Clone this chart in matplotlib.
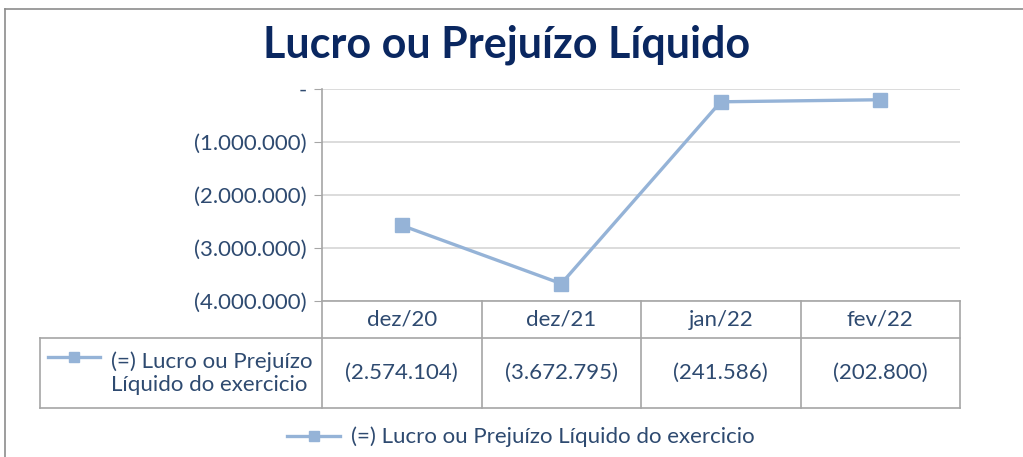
import matplotlib
matplotlib.use("Agg")
import matplotlib.pyplot as plt
from matplotlib.lines import Line2D
from matplotlib.ticker import FuncFormatter

periods = ["dez/20", "dez/21", "jan/22", "fev/22"]
resultado = [-2574104, -3672795, -241586, -202800]
y_ticks = [0, -1000000, -2000000, -3000000, -4000000]
serie = "(=) Lucro ou Prejuízo Líquido do exercicio"

LINE = "#95B3D7"
TXT = "#2E4A70"
NAVY = "#0A2760"
GRID = "#D9D9D9"
EDGE = "#A6A6A6"
FS = 16

plt.rcParams["font.family"] = ["Lato", "DejaVu Sans"]

W, H = 1023, 457
fig = plt.figure(figsize=(W / 100, H / 100), dpi=100)


def fx(px):
    return px / W


def fy(py):
    return 1 - py / H


def br(v):
    s = "{:,.0f}".format(abs(v)).replace(",", ".")
    if v == 0:
        return "-"
    return "(%s)" % s if v < 0 else s


# plot area
x0, x1, y0, y1 = 322, 960, 89, 301
ax = fig.add_axes([fx(x0), fy(y1), fx(x1) - fx(x0), fy(y0) - fy(y1)])
xs = [i + 0.5 for i in range(len(periods))]
ax.plot(xs, resultado, color=LINE, lw=2.4, marker="s", ms=10, zorder=3)
ax.set_xlim(0, len(periods))
ax.set_ylim(min(y_ticks), max(y_ticks))
ax.set_yticks(y_ticks)
ax.yaxis.set_major_formatter(FuncFormatter(lambda v, p: br(v)))
ax.set_xticks([])
ax.grid(axis="y", color=GRID, lw=1.3)
for s in ["top", "right", "bottom"]:
    ax.spines[s].set_visible(False)
ax.spines["left"].set_color(EDGE)
ax.spines["left"].set_linewidth(1.2)
ax.tick_params(axis="y", length=6, color=EDGE, labelsize=FS,
               labelcolor=TXT, pad=5)

# overlay in pixel coordinates for frame and data table
ov = fig.add_axes([0, 0, 1, 1], zorder=-1)
ov.set_xlim(0, W)
ov.set_ylim(H, 0)
ov.axis("off")
ov2 = fig.add_axes([0, 0, 1, 1], zorder=5)
ov2.set_xlim(0, W)
ov2.set_ylim(H, 0)
ov2.axis("off")
ov2.patch.set_alpha(0)

# outer chart frame
ov.plot([5, W], [9, 9], color="#8C8C8C", lw=1.2)
ov.plot([5, 5], [9, H], color="#8C8C8C", lw=1.2)

fig.text(fx(507), fy(45), "Lucro ou Prejuízo Líquido", ha="center",
         va="center", fontsize=31, fontweight="bold", color=NAVY)

# table
cols = [x0 + (x1 - x0) * i / len(periods) for i in range(len(periods) + 1)]
r0, r1, r2 = 301, 338, 408
lt = 40
ov2.plot([x0, x1], [r0, r0], color=EDGE, lw=1.2)
ov2.plot([lt, x1], [r1, r1], color=EDGE, lw=1.2)
ov2.plot([lt, x1], [r2, r2], color=EDGE, lw=1.2)
ov2.plot([lt, lt], [r1, r2], color=EDGE, lw=1.2)
for c in cols:
    ov2.plot([c, c], [r0, r2], color=EDGE, lw=1.2)
for i, p in enumerate(periods):
    cx = (cols[i] + cols[i + 1]) / 2
    ov2.text(cx, (r0 + r1) / 2, p, ha="center", va="center",
             fontsize=FS, color=TXT)
    ov2.text(cx, (r1 + r2) / 2, br(resultado[i]), ha="center", va="center",
             fontsize=FS, color=TXT)
ov2.add_line(Line2D([48, 100], [357, 357], color=LINE, lw=2.4))
ov2.plot([74], [357], marker="s", ms=7, color=LINE)
ov2.text(111, 373, "(=) Lucro ou Prejuízo\nLíquido do exercicio", ha="left",
         va="center", fontsize=FS, color=TXT, linespacing=1.2)

# legend
h = Line2D([], [], color=LINE, lw=2.4, marker="s", ms=7)
fig.legend([h], [serie], loc="center", bbox_to_anchor=(fx(521), fy(437)),
           frameon=False, fontsize=FS, labelcolor=TXT, handlelength=2.4,
           handletextpad=0.5)

fig.savefig("out.png", dpi=100)
